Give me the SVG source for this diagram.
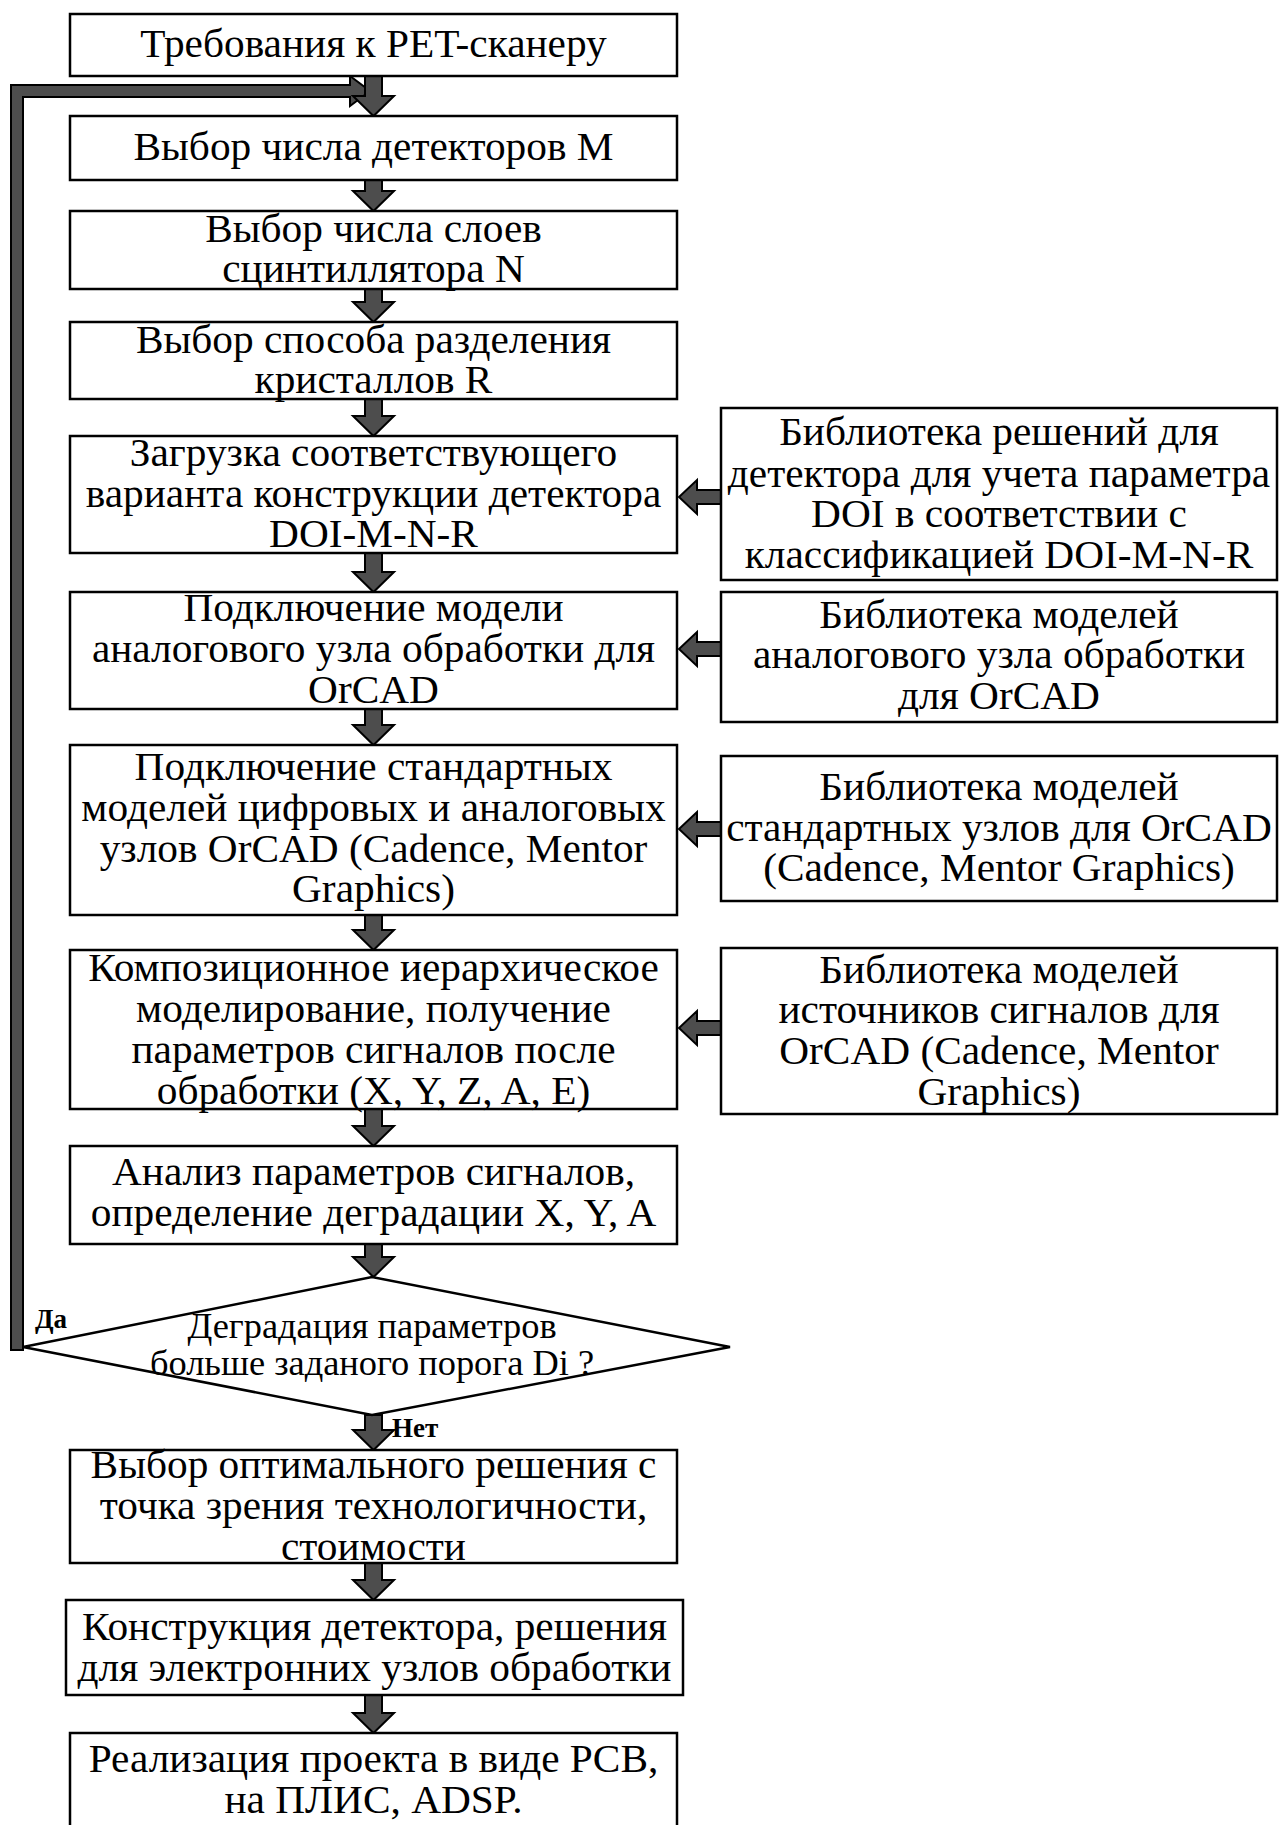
<svg xmlns="http://www.w3.org/2000/svg" width="1279" height="1825" viewBox="0 0 1279 1825">
<style>
.box{fill:#fff;stroke:#000;stroke-width:2.5}
.t{font-family:"Liberation Serif","Times New Roman",serif;font-size:39px;fill:#000;text-anchor:middle}
.d{font-family:"Liberation Serif","Times New Roman",serif;font-size:35px;fill:#000;text-anchor:middle}
.lb{font-family:"Liberation Serif","Times New Roman",serif;font-size:27px;font-weight:bold;fill:#000}
.ar{fill:#4d4d4d;stroke:#000;stroke-width:2;stroke-linejoin:miter}
</style>
<rect width="1279" height="1825" fill="#fff"/>
<g id="connectors">
<path class="ar" d="M11,1350 V85 H350 V76 L370,91 L350,106 V97 H23 V1350 Z"/>
<path class="ar" d="M365,76 H382 V96 H394 L373.5,116 L353,96 H365 Z"/>
<path class="ar" d="M365,180 H382 V191 H394 L373.5,211 L353,191 H365 Z"/>
<path class="ar" d="M365,289 H382 V302 H394 L373.5,322 L353,302 H365 Z"/>
<path class="ar" d="M365,399 H382 V416 H394 L373.5,436 L353,416 H365 Z"/>
<path class="ar" d="M365,553 H382 V572 H394 L373.5,592 L353,572 H365 Z"/>
<path class="ar" d="M365,709 H382 V725 H394 L373.5,745 L353,725 H365 Z"/>
<path class="ar" d="M365,915 H382 V930 H394 L373.5,950 L353,930 H365 Z"/>
<path class="ar" d="M365,1109 H382 V1126 H394 L373.5,1146 L353,1126 H365 Z"/>
<path class="ar" d="M365,1244 H382 V1257 H394 L373.5,1277 L353,1257 H365 Z"/>
<path class="ar" d="M365,1415 H382 V1430 H394 L373.5,1450 L353,1430 H365 Z"/>
<path class="ar" d="M365,1563 H382 V1580 H394 L373.5,1600 L353,1580 H365 Z"/>
<path class="ar" d="M365,1695 H382 V1713 H394 L373.5,1733 L353,1713 H365 Z"/>
<path class="ar" d="M721,490 H697 V480 L679,497 L697,514 V504 H721 Z"/>
<path class="ar" d="M721,642 H697 V632 L679,649 L697,666 V656 H721 Z"/>
<path class="ar" d="M721,822 H697 V812 L679,829 L697,846 V836 H721 Z"/>
<path class="ar" d="M721,1021 H697 V1011 L679,1028 L697,1045 V1035 H721 Z"/>
<text class="lb" x="35" y="1328">Да</text>
<text class="lb" x="392" y="1437">Нет</text>
</g>
<g id="n1"><rect class="box" x="70" y="14" width="607" height="62"/><g transform="translate(373.5,0) scale(1.06,1)"><text class="t" x="0" y="57">Требования к PET-сканеру</text></g></g>
<g id="n2"><rect class="box" x="70" y="116" width="607" height="64"/><g transform="translate(373.5,0) scale(1.06,1)"><text class="t" x="0" y="160">Выбор числа детекторов М</text></g></g>
<g id="n3"><rect class="box" x="70" y="211" width="607" height="78"/><g transform="translate(373.5,0) scale(1.06,1)"><text class="t" x="0" y="242">Выбор числа слоев</text><text class="t" x="0" y="282">сцинтиллятора N</text></g></g>
<g id="n4"><rect class="box" x="70" y="322" width="607" height="77"/><g transform="translate(373.5,0) scale(1.06,1)"><text class="t" x="0" y="353">Выбор способа разделения</text><text class="t" x="0" y="393">кристаллов R</text></g></g>
<g id="n5"><rect class="box" x="70" y="436" width="607" height="117"/><g transform="translate(373.5,0) scale(1.06,1)"><text class="t" x="0" y="466">Загрузка соответствующего</text><text class="t" x="0" y="507">варианта конструкции детектора</text><text class="t" x="0" y="547">DOI-M-N-R</text></g></g>
<g id="n6"><rect class="box" x="70" y="592" width="607" height="117"/><g transform="translate(373.5,0) scale(1.06,1)"><text class="t" x="0" y="621">Подключение модели</text><text class="t" x="0" y="662">аналогового узла обработки для</text><text class="t" x="0" y="703">OrCAD</text></g></g>
<g id="n7"><rect class="box" x="70" y="745" width="607" height="170"/><g transform="translate(373.5,0) scale(1.06,1)"><text class="t" x="0" y="780">Подключение стандартных</text><text class="t" x="0" y="821">моделей цифровых и аналоговых</text><text class="t" x="0" y="862">узлов OrCAD (Cadence, Mentor</text><text class="t" x="0" y="902">Graphics)</text></g></g>
<g id="n8"><rect class="box" x="70" y="950" width="607" height="159"/><g transform="translate(373.5,0) scale(1.06,1)"><text class="t" x="0" y="981">Композиционное иерархическое</text><text class="t" x="0" y="1022">моделирование, получение</text><text class="t" x="0" y="1063">параметров сигналов после</text><text class="t" x="0" y="1104">обработки (X, Y, Z, A, E)</text></g></g>
<g id="n9"><rect class="box" x="70" y="1146" width="607" height="98"/><g transform="translate(373.5,0) scale(1.06,1)"><text class="t" x="0" y="1185">Анализ параметров сигналов,</text><text class="t" x="0" y="1226">определение деградации X, Y, A</text></g></g>
<g id="n10"><polygon class="box" points="23,1347 372,1277 730,1347 372,1415"/><g transform="translate(372,0) scale(1.04,1)"><text class="d" x="0" y="1338">Деградация параметров</text><text class="d" x="0" y="1375">больше заданого порога Di ?</text></g></g>
<g id="n11"><rect class="box" x="70" y="1450" width="607" height="113"/><g transform="translate(373.5,0) scale(1.06,1)"><text class="t" x="0" y="1478">Выбор оптимального решения с</text><text class="t" x="0" y="1519">точка зрения технологичности,</text><text class="t" x="0" y="1560">стоимости</text></g></g>
<g id="n12"><rect class="box" x="66" y="1600" width="617" height="95"/><g transform="translate(374.5,0) scale(1.06,1)"><text class="t" x="0" y="1640">Конструкция детектора, решения</text><text class="t" x="0" y="1681">для электронних узлов обработки</text></g></g>
<g id="n13"><rect class="box" x="70" y="1733" width="607" height="110"/><g transform="translate(373.5,0) scale(1.06,1)"><text class="t" x="0" y="1772">Реализация проекта в виде PCB,</text><text class="t" x="0" y="1813">на ПЛИС, ADSP.</text></g></g>
<g id="r1"><rect class="box" x="721" y="408" width="556" height="172"/><g transform="translate(999,0) scale(1.06,1)"><text class="t" x="0" y="445">Библиотека решений для</text><text class="t" x="0" y="487">детектора для учета параметра</text><text class="t" x="0" y="527">DOI в соответствии с</text><text class="t" x="0" y="568">классификацией DOI-M-N-R</text></g></g>
<g id="r2"><rect class="box" x="721" y="592" width="556" height="130"/><g transform="translate(999,0) scale(1.06,1)"><text class="t" x="0" y="628">Библиотека моделей</text><text class="t" x="0" y="668">аналогового узла обработки</text><text class="t" x="0" y="709">для OrCAD</text></g></g>
<g id="r3"><rect class="box" x="721" y="756" width="556" height="145"/><g transform="translate(999,0) scale(1.06,1)"><text class="t" x="0" y="800">Библиотека моделей</text><text class="t" x="0" y="841">стандартных узлов для OrCAD</text><text class="t" x="0" y="881">(Cadence, Mentor Graphics)</text></g></g>
<g id="r4"><rect class="box" x="721" y="948" width="556" height="166"/><g transform="translate(999,0) scale(1.06,1)"><text class="t" x="0" y="983">Библиотека моделей</text><text class="t" x="0" y="1023">источников сигналов для</text><text class="t" x="0" y="1064">OrCAD (Cadence, Mentor</text><text class="t" x="0" y="1105">Graphics)</text></g></g>
</svg>
